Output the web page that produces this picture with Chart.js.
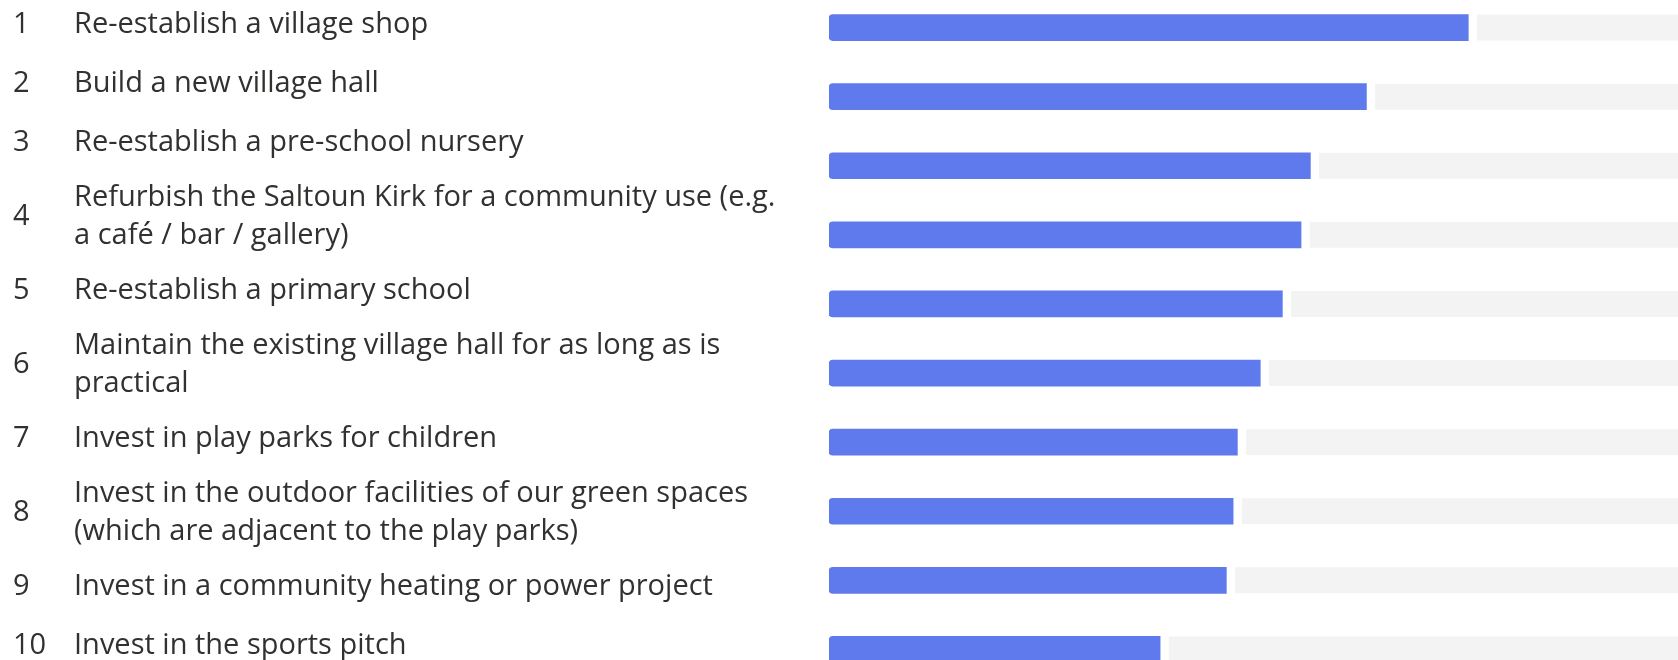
<!DOCTYPE html>
<html lang="en">

<head>
    <meta charset="UTF-8">
    <title>Ranking</title>
    <script src="https://cdn.jsdelivr.net/npm/chart.js"></script>
    <style>
        html, body { margin: 0; padding: 0; background: #fff; overflow: hidden; }
        .chart_box { position: absolute; left: 0; top: -7.5px; width: 1678px; height: 691px; }
    </style>
</head>

<body>
    <div class="chart_box"><canvas id="rankChart"></canvas></div>

    <script>
        const ranks = ['1', '2', '3', '4', '5', '6', '7', '8', '9', '10'];
        const options = [
            ['Re-establish a village shop'],
            ['Build a new village hall'],
            ['Re-establish a pre-school nursery'],
            ['Refurbish the Saltoun Kirk for a community use (e.g.', 'a café / bar / gallery)'],
            ['Re-establish a primary school'],
            ['Maintain the existing village hall for as long as is', 'practical'],
            ['Invest in play parks for children'],
            ['Invest in the outdoor facilities of our green spaces', '(which are adjacent to the play parks)'],
            ['Invest in a community heating or power project'],
            ['Invest in the sports pitch']
        ];
        const scores = [75.3, 63.3, 56.7, 55.6, 53.4, 50.8, 48.1, 47.6, 46.8, 39.0];
        const scoreMax = 100;
        const rest = scores.map(v => scoreMax - v);

        const labelFont = '29px "Open Sans"';

        // draws rank numbers + option text in the left padding
        const rankLabels = {
            id: 'rankLabels',
            afterDraw(chart) {
                const c = chart.ctx;
                c.save();
                c.font = labelFont;
                c.fillStyle = '#323130';
                c.textBaseline = 'middle';
                let y = 2;
                options.forEach((lines, i) => {
                    const h = 59 + (lines.length - 1) * 30;
                    const mid = y + h / 2;
                    c.fillText(ranks[i], 13, mid);
                    lines.forEach((t, j) => {
                        c.fillText(t, 74, mid + (j - (lines.length - 1) / 2) * 38.5);
                    });
                    y += h;
                });
                c.restore();
            }
        };

        const ctx = document.getElementById('rankChart').getContext('2d');

        new Chart(ctx, {
            type: 'bar',
            data: {
                labels: ranks,
                datasets: [{
                    data: scores,
                    backgroundColor: '#5f7aed',
                    borderRadius: { topLeft: 4, bottomLeft: 4, topRight: 0, bottomRight: 0 },
                    borderSkipped: false,
                    barThickness: 26
                }, {
                    data: rest,
                    backgroundColor: '#f3f3f3',
                    borderColor: '#fff',
                    borderWidth: { left: 9, top: 0, right: 0, bottom: 0 },
                    borderSkipped: false,
                    barThickness: 26
                }]
            },
            options: {
                indexAxis: 'y',
                responsive: true,
                maintainAspectRatio: false,
                animation: false,
                layout: { padding: { left: 829 } },
                scales: {
                    x: { stacked: true, display: false, min: 0, max: scoreMax },
                    y: { stacked: true, display: false }
                },
                plugins: {
                    legend: { display: false },
                    tooltip: { enabled: false }
                }
            },
            plugins: [rankLabels]
        });
    </script>
</body>

</html>
